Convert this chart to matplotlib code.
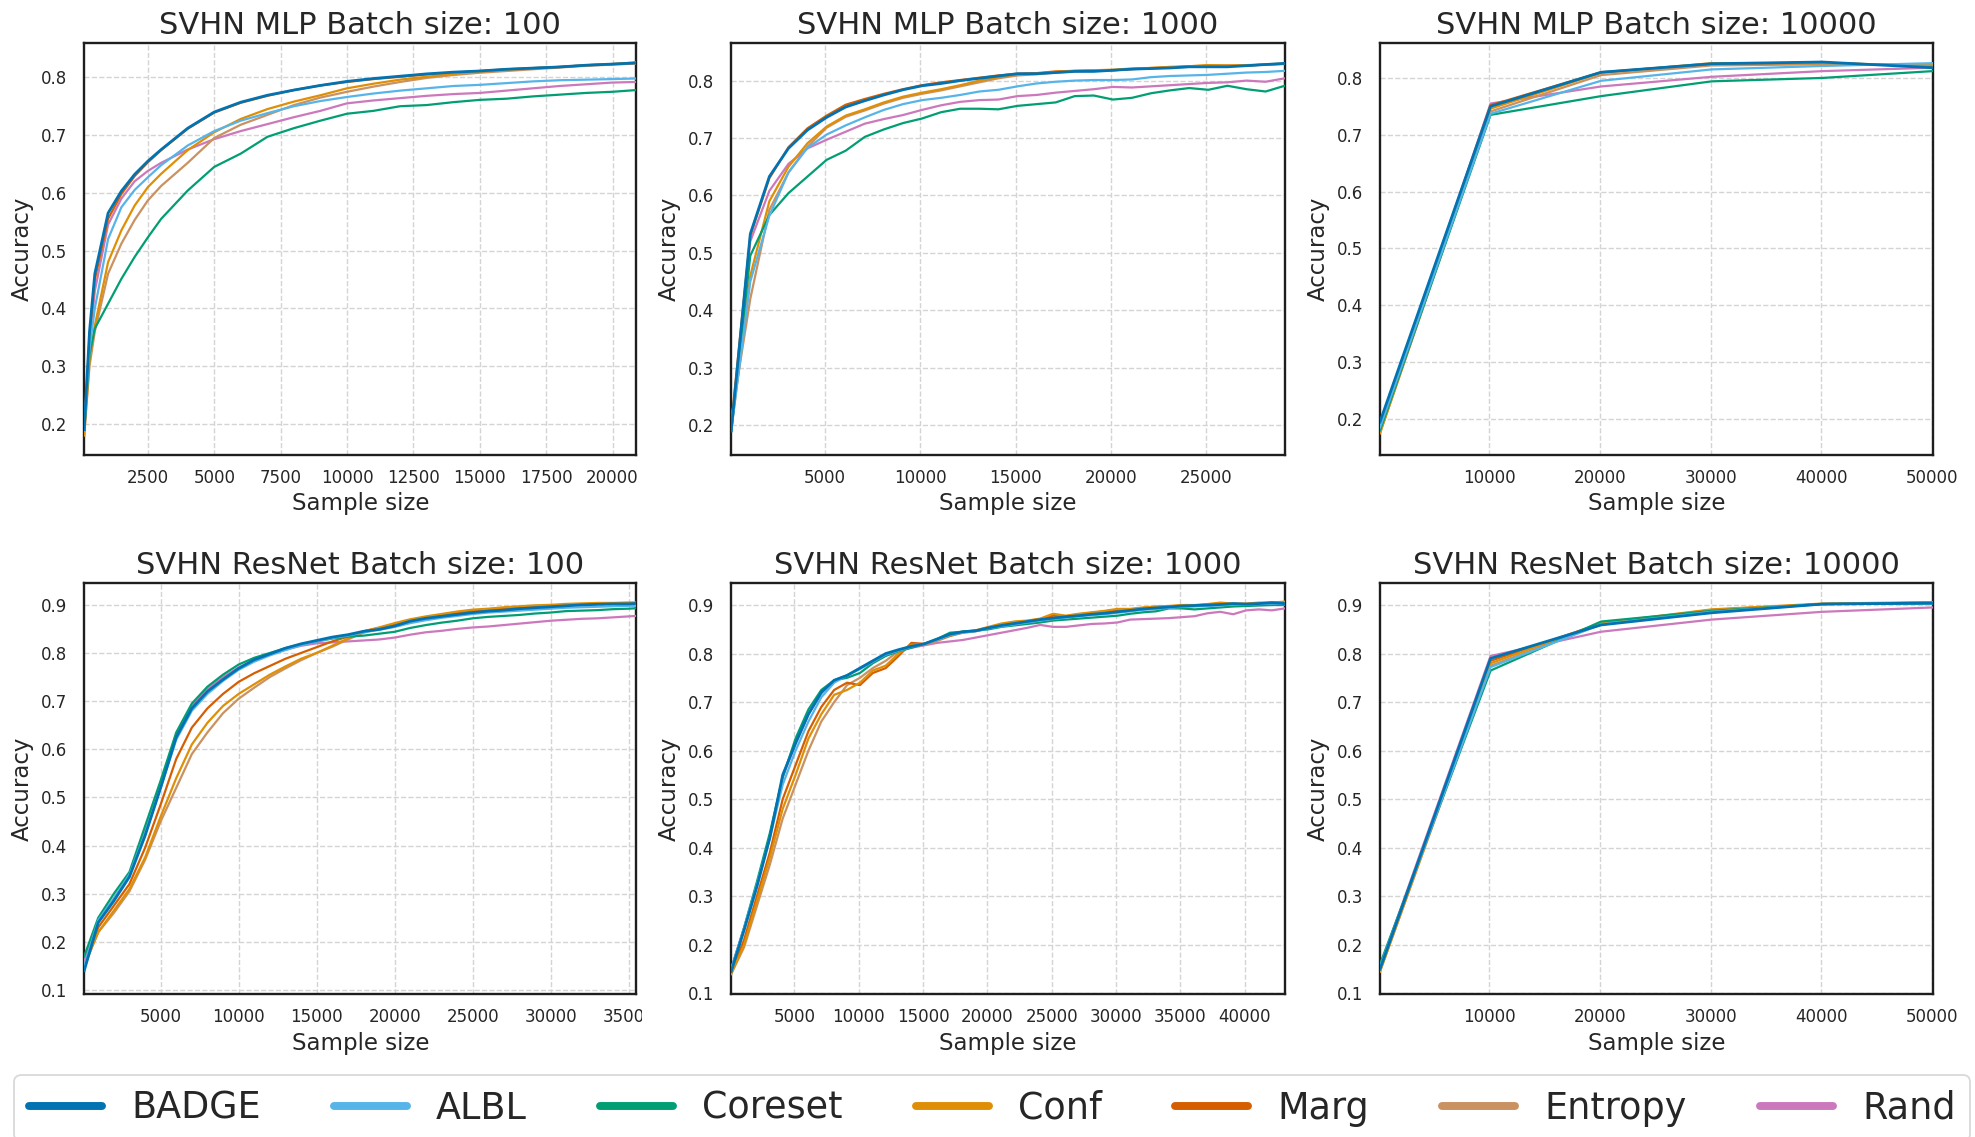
import matplotlib
matplotlib.use("Agg")
import matplotlib.pyplot as plt
from matplotlib.lines import Line2D
from matplotlib.transforms import Bbox, TransformedBbox

# ---------------------------------------------------------------- data
methods = ["BADGE", "ALBL", "Coreset", "Conf", "Marg", "Entropy", "Rand"]
colors = ["#0173b2", "#56b4e9", "#029e73", "#de8f05", "#d55e00", "#ca9161", "#cc78bc"]

# SVHN MLP, batch size 100
mlp100_x = [100, 300, 500, 1000, 1500, 2000, 2500, 3000, 4000, 5000, 6000, 7000, 8000,
            9000, 10000, 11000, 12000, 13000, 14000, 15000, 16000, 17000, 18000, 19000,
            20000, 20900]
mlp100_badge = [0.19, 0.36, 0.46, 0.565, 0.603, 0.632, 0.655, 0.675, 0.712, 0.740, 0.757, 0.769, 0.778,
                0.786, 0.793, 0.798, 0.802, 0.806, 0.809, 0.811, 0.814, 0.816, 0.818, 0.821, 0.823, 0.825]
mlp100_albl = [0.19, 0.33, 0.40, 0.52, 0.575, 0.605, 0.627, 0.648, 0.682, 0.707, 0.725, 0.738, 0.750,
               0.759, 0.766, 0.772, 0.777, 0.781, 0.785, 0.787, 0.790, 0.793, 0.795, 0.796, 0.797, 0.798]
mlp100_coreset = [0.19, 0.32, 0.365, 0.408, 0.451, 0.489, 0.523, 0.555, 0.604, 0.645, 0.668, 0.697, 0.712,
                  0.725, 0.737, 0.742, 0.750, 0.752, 0.757, 0.761, 0.763, 0.767, 0.770, 0.773, 0.775, 0.778]
mlp100_conf = [0.18, 0.31, 0.37, 0.48, 0.535, 0.578, 0.61, 0.633, 0.674, 0.705, 0.728, 0.745, 0.758,
               0.769, 0.781, 0.789, 0.796, 0.801, 0.806, 0.810, 0.813, 0.816, 0.818, 0.821, 0.823, 0.826]
mlp100_marg = [0.19, 0.35, 0.45, 0.555, 0.598, 0.629, 0.653, 0.674, 0.711, 0.739, 0.756, 0.768, 0.778,
               0.786, 0.792, 0.797, 0.801, 0.805, 0.808, 0.811, 0.814, 0.816, 0.818, 0.821, 0.823, 0.825]
mlp100_entropy = [0.18, 0.30, 0.36, 0.46, 0.512, 0.553, 0.587, 0.612, 0.652, 0.695, 0.718, 0.735, 0.752,
                  0.765, 0.775, 0.784, 0.792, 0.799, 0.804, 0.808, 0.811, 0.814, 0.817, 0.820, 0.822, 0.824]
mlp100_rand = [0.19, 0.34, 0.43, 0.545, 0.59, 0.62, 0.638, 0.652, 0.675, 0.693, 0.707, 0.719, 0.731,
               0.742, 0.755, 0.760, 0.764, 0.768, 0.771, 0.773, 0.777, 0.781, 0.785, 0.788, 0.791, 0.792]

# SVHN MLP, batch size 1000
mlp1000_x = list(range(100, 29101, 1000))
mlp1000_badge = [0.19, 0.533, 0.633, 0.682, 0.714, 0.736, 0.754, 0.765, 0.775, 0.784, 0.791, 0.795, 0.800,
                 0.804, 0.808, 0.812, 0.812, 0.814, 0.816, 0.816, 0.818, 0.820, 0.821, 0.822, 0.824, 0.824,
                 0.824, 0.826, 0.828, 0.830]
mlp1000_albl = [0.19, 0.45, 0.565, 0.64, 0.683, 0.706, 0.722, 0.736, 0.749, 0.759, 0.766, 0.770, 0.775,
                0.781, 0.784, 0.790, 0.795, 0.798, 0.800, 0.801, 0.801, 0.802, 0.806, 0.808, 0.809, 0.810,
                0.812, 0.814, 0.815, 0.817]
mlp1000_coreset = [0.19, 0.495, 0.566, 0.604, 0.633, 0.662, 0.678, 0.702, 0.715, 0.726, 0.734, 0.745, 0.751,
                   0.751, 0.750, 0.756, 0.759, 0.762, 0.773, 0.774, 0.767, 0.770, 0.778, 0.783, 0.787, 0.784,
                   0.791, 0.785, 0.781, 0.791]
mlp1000_conf = [0.19, 0.46, 0.59, 0.65, 0.691, 0.72, 0.739, 0.75, 0.762, 0.772, 0.779, 0.785, 0.792,
                0.800, 0.806, 0.811, 0.812, 0.815, 0.817, 0.818, 0.819, 0.821, 0.822, 0.824, 0.825, 0.827,
                0.826, 0.827, 0.828, 0.830]
mlp1000_marg = [0.20, 0.53, 0.63, 0.684, 0.717, 0.739, 0.758, 0.768, 0.777, 0.785, 0.792, 0.797, 0.801,
                0.805, 0.809, 0.812, 0.813, 0.816, 0.817, 0.818, 0.818, 0.820, 0.822, 0.823, 0.825, 0.826,
                0.826, 0.826, 0.828, 0.829]
mlp1000_entropy = [0.21, 0.42, 0.575, 0.64, 0.685, 0.718, 0.737, 0.748, 0.760, 0.770, 0.777, 0.783, 0.790,
                   0.797, 0.804, 0.809, 0.811, 0.814, 0.816, 0.817, 0.818, 0.820, 0.821, 0.823, 0.824, 0.826,
                   0.826, 0.826, 0.828, 0.829]
mlp1000_rand = [0.19, 0.52, 0.608, 0.655, 0.682, 0.697, 0.711, 0.725, 0.733, 0.740, 0.749, 0.757, 0.763,
                0.766, 0.767, 0.773, 0.775, 0.779, 0.782, 0.785, 0.789, 0.788, 0.790, 0.792, 0.794, 0.796,
                0.797, 0.800, 0.798, 0.804]

# SVHN MLP, batch size 10000
mlp10000_x = [100, 10100, 20100, 30100, 40100, 50100]
mlp10000_badge = [0.195, 0.750, 0.810, 0.825, 0.828, 0.818]
mlp10000_albl = [0.185, 0.737, 0.795, 0.815, 0.821, 0.826]
mlp10000_coreset = [0.180, 0.735, 0.768, 0.794, 0.800, 0.812]
mlp10000_conf = [0.175, 0.746, 0.809, 0.826, 0.826, 0.822]
mlp10000_marg = [0.180, 0.752, 0.810, 0.825, 0.827, 0.820]
mlp10000_entropy = [0.175, 0.741, 0.805, 0.822, 0.824, 0.824]
mlp10000_rand = [0.180, 0.755, 0.785, 0.802, 0.812, 0.818]

# SVHN ResNet, batch size 100
resnet100_x = [100] + list(range(1000, 35001, 1000)) + [35500]
resnet100_badge = [0.14, 0.24, 0.285, 0.335, 0.42, 0.52, 0.625, 0.685, 0.72, 0.745, 0.768, 0.786, 0.798,
                   0.81, 0.819, 0.826, 0.833, 0.838, 0.845, 0.849, 0.856, 0.866, 0.872, 0.876, 0.880,
                   0.884, 0.887, 0.889, 0.892, 0.894, 0.896, 0.898, 0.900, 0.901, 0.902, 0.902, 0.903]
resnet100_albl = [0.15, 0.245, 0.29, 0.34, 0.425, 0.52, 0.62, 0.68, 0.715, 0.742, 0.765, 0.782, 0.795,
                  0.806, 0.816, 0.824, 0.831, 0.836, 0.843, 0.848, 0.854, 0.862, 0.868, 0.873, 0.877,
                  0.881, 0.884, 0.886, 0.888, 0.890, 0.892, 0.894, 0.895, 0.896, 0.897, 0.898, 0.898]
resnet100_coreset = [0.17, 0.25, 0.30, 0.345, 0.44, 0.535, 0.635, 0.695, 0.73, 0.755, 0.776, 0.79, 0.80,
                     0.81, 0.818, 0.824, 0.83, 0.834, 0.836, 0.84, 0.844, 0.852, 0.858, 0.863, 0.867,
                     0.872, 0.875, 0.877, 0.879, 0.882, 0.884, 0.887, 0.888, 0.889, 0.891, 0.892, 0.893]
resnet100_conf = [0.15, 0.22, 0.265, 0.31, 0.375, 0.46, 0.54, 0.61, 0.655, 0.69, 0.715, 0.735, 0.755,
                  0.772, 0.788, 0.80, 0.815, 0.83, 0.845, 0.853, 0.862, 0.870, 0.876, 0.881, 0.886,
                  0.890, 0.892, 0.895, 0.897, 0.899, 0.900, 0.902, 0.903, 0.904, 0.904, 0.905, 0.905]
resnet100_marg = [0.15, 0.23, 0.275, 0.32, 0.395, 0.485, 0.58, 0.645, 0.685, 0.715, 0.74, 0.758, 0.773,
                  0.788, 0.80, 0.812, 0.824, 0.834, 0.845, 0.852, 0.86, 0.868, 0.874, 0.879, 0.883,
                  0.887, 0.890, 0.892, 0.894, 0.896, 0.898, 0.900, 0.901, 0.902, 0.903, 0.903, 0.903]
resnet100_entropy = [0.15, 0.22, 0.26, 0.305, 0.37, 0.45, 0.52, 0.59, 0.635, 0.675, 0.705, 0.728, 0.75,
                     0.768, 0.785, 0.80, 0.813, 0.828, 0.842, 0.851, 0.859, 0.867, 0.874, 0.879, 0.884,
                     0.888, 0.891, 0.893, 0.895, 0.897, 0.898, 0.900, 0.901, 0.902, 0.902, 0.902, 0.902]
resnet100_rand = [0.16, 0.245, 0.29, 0.34, 0.43, 0.53, 0.63, 0.69, 0.725, 0.75, 0.77, 0.785, 0.797,
                  0.807, 0.815, 0.82, 0.822, 0.824, 0.826, 0.828, 0.832, 0.838, 0.843, 0.846, 0.850,
                  0.853, 0.855, 0.858, 0.861, 0.864, 0.867, 0.869, 0.871, 0.872, 0.874, 0.876, 0.877]

# SVHN ResNet, batch size 1000
resnet1000_x = list(range(100, 43101, 1000))
resnet1000_badge = [0.145, 0.23, 0.32, 0.42, 0.55, 0.615, 0.675, 0.72, 0.745, 0.755, 0.77, 0.785, 0.80,
                    0.808, 0.815, 0.82, 0.83, 0.84, 0.845, 0.847, 0.853, 0.858, 0.862, 0.866, 0.87, 0.873,
                    0.876, 0.878, 0.881, 0.883, 0.886, 0.889, 0.892, 0.894, 0.896, 0.898, 0.899, 0.900,
                    0.901, 0.903, 0.902, 0.903, 0.905, 0.903]
resnet1000_albl = [0.15, 0.235, 0.325, 0.42, 0.53, 0.60, 0.66, 0.71, 0.74, 0.755, 0.768, 0.783, 0.798,
                   0.806, 0.814, 0.82, 0.828, 0.838, 0.843, 0.846, 0.852, 0.856, 0.86, 0.864, 0.868, 0.871,
                   0.874, 0.877, 0.879, 0.881, 0.884, 0.887, 0.890, 0.892, 0.894, 0.896, 0.897, 0.898,
                   0.899, 0.901, 0.901, 0.902, 0.903, 0.902]
resnet1000_coreset = [0.15, 0.235, 0.33, 0.43, 0.545, 0.625, 0.685, 0.725, 0.745, 0.75, 0.76, 0.78, 0.795,
                      0.805, 0.812, 0.82, 0.83, 0.843, 0.845, 0.847, 0.85, 0.855, 0.858, 0.861, 0.864, 0.868,
                      0.870, 0.872, 0.874, 0.876, 0.878, 0.882, 0.885, 0.887, 0.893, 0.893, 0.891, 0.893,
                      0.895, 0.897, 0.898, 0.899, 0.900, 0.900]
resnet1000_conf = [0.14, 0.20, 0.29, 0.38, 0.48, 0.55, 0.625, 0.675, 0.715, 0.725, 0.74, 0.765, 0.775,
                   0.80, 0.818, 0.82, 0.828, 0.838, 0.845, 0.848, 0.855, 0.862, 0.866, 0.868, 0.872, 0.882,
                   0.878, 0.882, 0.885, 0.888, 0.892, 0.892, 0.895, 0.897, 0.898, 0.900, 0.900, 0.902,
                   0.905, 0.903, 0.903, 0.905, 0.905, 0.907]
resnet1000_marg = [0.145, 0.21, 0.30, 0.39, 0.50, 0.57, 0.64, 0.69, 0.725, 0.74, 0.735, 0.76, 0.77,
                   0.795, 0.822, 0.82, 0.828, 0.837, 0.844, 0.847, 0.854, 0.86, 0.865, 0.867, 0.871, 0.878,
                   0.877, 0.881, 0.884, 0.887, 0.890, 0.891, 0.894, 0.896, 0.897, 0.899, 0.899, 0.901,
                   0.903, 0.902, 0.902, 0.904, 0.904, 0.905]
resnet1000_entropy = [0.14, 0.195, 0.28, 0.365, 0.46, 0.53, 0.60, 0.66, 0.70, 0.735, 0.75, 0.77, 0.785,
                      0.805, 0.815, 0.818, 0.826, 0.836, 0.843, 0.846, 0.853, 0.86, 0.864, 0.866, 0.870, 0.880,
                      0.876, 0.880, 0.883, 0.886, 0.890, 0.890, 0.893, 0.895, 0.896, 0.898, 0.898, 0.900,
                      0.903, 0.901, 0.901, 0.903, 0.903, 0.905]
resnet1000_rand = [0.15, 0.235, 0.325, 0.425, 0.545, 0.615, 0.675, 0.718, 0.745, 0.755, 0.77, 0.785, 0.797,
                   0.805, 0.812, 0.817, 0.822, 0.825, 0.828, 0.833, 0.838, 0.843, 0.848, 0.853, 0.859, 0.855,
                   0.855, 0.858, 0.861, 0.862, 0.864, 0.87, 0.871, 0.872, 0.873, 0.875, 0.877, 0.883,
                   0.886, 0.881, 0.889, 0.891, 0.889, 0.893]

# SVHN ResNet, batch size 10000
resnet10000_x = [100, 10100, 20100, 30100, 40100, 50100]
resnet10000_badge = [0.150, 0.790, 0.859, 0.884, 0.902, 0.904]
resnet10000_albl = [0.155, 0.772, 0.860, 0.886, 0.902, 0.904]
resnet10000_coreset = [0.160, 0.765, 0.866, 0.888, 0.902, 0.903]
resnet10000_conf = [0.145, 0.780, 0.863, 0.891, 0.903, 0.906]
resnet10000_marg = [0.150, 0.785, 0.862, 0.890, 0.902, 0.905]
resnet10000_entropy = [0.145, 0.775, 0.860, 0.889, 0.902, 0.905]
resnet10000_rand = [0.155, 0.795, 0.845, 0.870, 0.886, 0.895]

titles = ["SVHN MLP Batch size: 100", "SVHN MLP Batch size: 1000", "SVHN MLP Batch size: 10000",
          "SVHN ResNet Batch size: 100", "SVHN ResNet Batch size: 1000", "SVHN ResNet Batch size: 10000"]

panels = [
    (mlp100_x, [mlp100_badge, mlp100_albl, mlp100_coreset, mlp100_conf, mlp100_marg, mlp100_entropy, mlp100_rand]),
    (mlp1000_x, [mlp1000_badge, mlp1000_albl, mlp1000_coreset, mlp1000_conf, mlp1000_marg, mlp1000_entropy, mlp1000_rand]),
    (mlp10000_x, [mlp10000_badge, mlp10000_albl, mlp10000_coreset, mlp10000_conf, mlp10000_marg, mlp10000_entropy, mlp10000_rand]),
    (resnet100_x, [resnet100_badge, resnet100_albl, resnet100_coreset, resnet100_conf, resnet100_marg, resnet100_entropy, resnet100_rand]),
    (resnet1000_x, [resnet1000_badge, resnet1000_albl, resnet1000_coreset, resnet1000_conf, resnet1000_marg, resnet1000_entropy, resnet1000_rand]),
    (resnet10000_x, [resnet10000_badge, resnet10000_albl, resnet10000_coreset, resnet10000_conf, resnet10000_marg, resnet10000_entropy, resnet10000_rand]),
]

xticks = [list(range(2500, 20001, 2500)), list(range(5000, 25001, 5000)), list(range(10000, 50001, 10000)),
          list(range(5000, 35001, 5000)), list(range(5000, 40001, 5000)), list(range(10000, 50001, 10000))]
yticks_top = [0.2, 0.3, 0.4, 0.5, 0.6, 0.7, 0.8]
yticks_bottom = [0.1, 0.2, 0.3, 0.4, 0.5, 0.6, 0.7, 0.8, 0.9]
ylims = [(0.146, 0.860), (0.148, 0.866), (0.1365, 0.862),
         (0.091, 0.946), (0.098, 0.946), (0.098, 0.946)]

# ---------------------------------------------------------------- layout
W, H = 1975, 1137
DPI = 100
TEXT = "#262626"

plt.rcParams.update({
    "font.family": "DejaVu Sans",
    "text.color": TEXT,
    "axes.labelcolor": TEXT,
    "xtick.color": TEXT,
    "ytick.color": TEXT,
})

fig = plt.figure(figsize=(W / DPI, H / DPI), dpi=DPI)
fig.patch.set_facecolor("white")

col_px = [(84.2, 636.4), (731.2, 1284.7), (1380.0, 1932.8)]
row_px = [(42.7, 455.0), (582.7, 994.3)]


def px_rect(x0, x1, y0, y1):
    return [x0 / W, 1 - y1 / H, (x1 - x0) / W, (y1 - y0) / H]


for i, (xs, series) in enumerate(panels):
    r, c = divmod(i, 3)
    ax = fig.add_axes(px_rect(*col_px[c], *row_px[r]))
    ax.set_facecolor("white")
    ax.set_axisbelow(True)
    ax.grid(True, linestyle="--", color="#d4d4d4", linewidth=1.0)

    # draw BADGE last so it sits on top
    for k in reversed(range(len(methods))):
        ax.plot(xs, series[k], color=colors[k], lw=2.0 if k == 0 else 1.6,
                solid_joinstyle="round", zorder=3 + (len(methods) - k) * 0.1)

    ax.set_xlim(xs[0], xs[-1])
    ax.set_ylim(*ylims[i])
    ax.set_xticks(xticks[i])
    ax.set_yticks(yticks_top if r == 0 else yticks_bottom)
    ax.set_yticklabels([f"{v:.1f}" for v in (yticks_top if r == 0 else yticks_bottom)])
    ax.tick_params(axis="both", length=0, labelsize=12)
    ax.tick_params(axis="x", pad=10)
    ax.tick_params(axis="y", pad=12)
    for sp in ax.spines.values():
        sp.set_color("#1e1e1e")
        sp.set_linewidth(1.7)
    ax.set_title(titles[i], fontsize=22, color=TEXT, pad=6)
    ax.set_xlabel("Sample size", fontsize=16.5, labelpad=4)
    ax.set_ylabel("Accuracy", fontsize=16.5, labelpad=5)

    if i == 3:
        # the first panel of the lower row is cut just right of its frame
        clip = TransformedBbox(Bbox.from_extents(0, 0, 642 / W, 1), fig.transFigure)
        for lab in ax.get_xticklabels():
            lab.set_clip_box(clip)
            lab.set_clip_on(True)

handles = [Line2D([0], [0], color=col, lw=5.7, solid_capstyle="round") for col in colors]
leg = fig.legend(handles, methods, loc="upper left", ncol=7,
                 bbox_to_anchor=(14.3 / W, 1 - 1075 / H), bbox_transform=fig.transFigure,
                 borderaxespad=0, fontsize=26.3, frameon=True, fancybox=True, framealpha=1)
leg.get_frame().set_edgecolor("#d9d9d9")
leg.get_frame().set_linewidth(1.3)

fig.savefig("out.png", dpi=DPI, facecolor="white")
